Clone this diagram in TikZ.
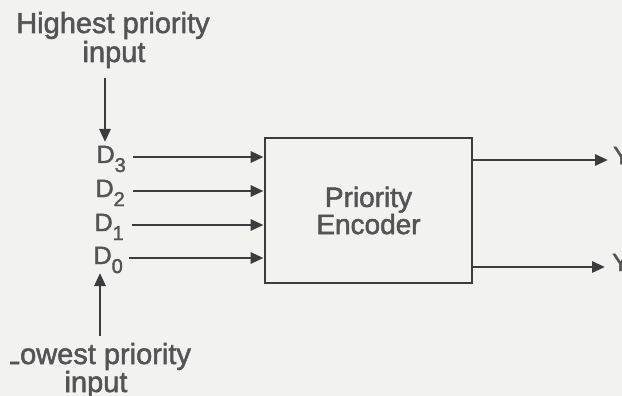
\documentclass[tikz,border=0pt]{standalone}
\usepackage{fontspec}
\setmainfont[FakeBold=1.8]{Liberation Sans}
\usetikzlibrary{arrows.meta}
\definecolor{bg}{RGB}{242,242,240}
\definecolor{ink}{RGB}{60,60,62}
\definecolor{txt}{RGB}{84,84,86}
\newcommand{\sbs}[1]{\raisebox{-9pt}{\fontsize{20}{20}\selectfont #1}}
\tikzset{
  conn/.style={draw=ink, line width=2.8pt, -{Triangle[length=13pt,width=11pt]}},
  lbl/.style={text=txt, font=\fontsize{29}{30}\selectfont, inner sep=0pt, align=center},
  dlbl/.style={text=txt, font=\fontsize{25}{26}\selectfont, inner sep=0pt, anchor=base east},
  ylbl/.style={text=txt, font=\fontsize{25}{26}\selectfont, inner sep=0pt, anchor=west},
  encbox/.style={draw=ink, line width=2.8pt, minimum width=207pt, minimum height=145pt, inner sep=0pt,
    text=txt, font=\fontsize{28}{26}\selectfont, align=center}
}
\begin{document}
\begin{tikzpicture}[x=1pt,y=-1pt]
\fill[bg] (0,0) rectangle (622,396);
\useasboundingbox (0,0) rectangle (622,396);
% top label
\node[lbl, anchor=base] (hi1) at (113,33) {Highest priority};
\node[lbl, anchor=base] (hi2) at (114,62) {input};
\coordinate (hitop) at (105,78);
\coordinate (hitip) at (105,142);
\draw[conn] (hitop) -- (hitip);
% bottom label (left edge cut off)
\begin{scope}
\clip (10,340) rectangle (300,396);
\node[lbl, anchor=base] (lo1) at (97.5,364) {Lowest priority};
\end{scope}
\node[lbl, anchor=base] (lo2) at (96,392) {input};
\coordinate (lobot) at (100,336);
\coordinate (lotip) at (100,273);
\draw[conn] (lobot) -- (lotip);
% box
\node[encbox] (box) at (368.5,210.5) {Priority\\Encoder};
% inputs
\node[dlbl] (d3) at (126,163) {D\sbs{3}};
\node[dlbl] (d2) at (125,197) {D\sbs{2}};
\node[dlbl] (d1) at (124,231) {D\sbs{1}};
\node[dlbl] (d0) at (123,264) {D\sbs{0}};
\coordinate (s3) at ([xshift=7pt,yshift=6pt]d3.base east);
\coordinate (s2) at ([xshift=8pt,yshift=6pt]d2.base east);
\coordinate (s1) at ([xshift=8pt,yshift=6pt]d1.base east);
\coordinate (s0) at ([xshift=6pt,yshift=6pt]d0.base east);
\foreach \n in {s3,s2,s1,s0}{
  \draw[conn] (\n) -- (\n -| box.west);
}
% outputs
\node[ylbl] (y1) at (613,160) {Y\sbs{1}};
\node[ylbl] (y0) at (612,267) {Y\sbs{0}};
\draw[conn] (box.east |- y1.west) -- ([xshift=-5pt]y1.west);
\draw[conn] (box.east |- y0.west) -- ([xshift=-7pt]y0.west);
\end{tikzpicture}
\end{document}
